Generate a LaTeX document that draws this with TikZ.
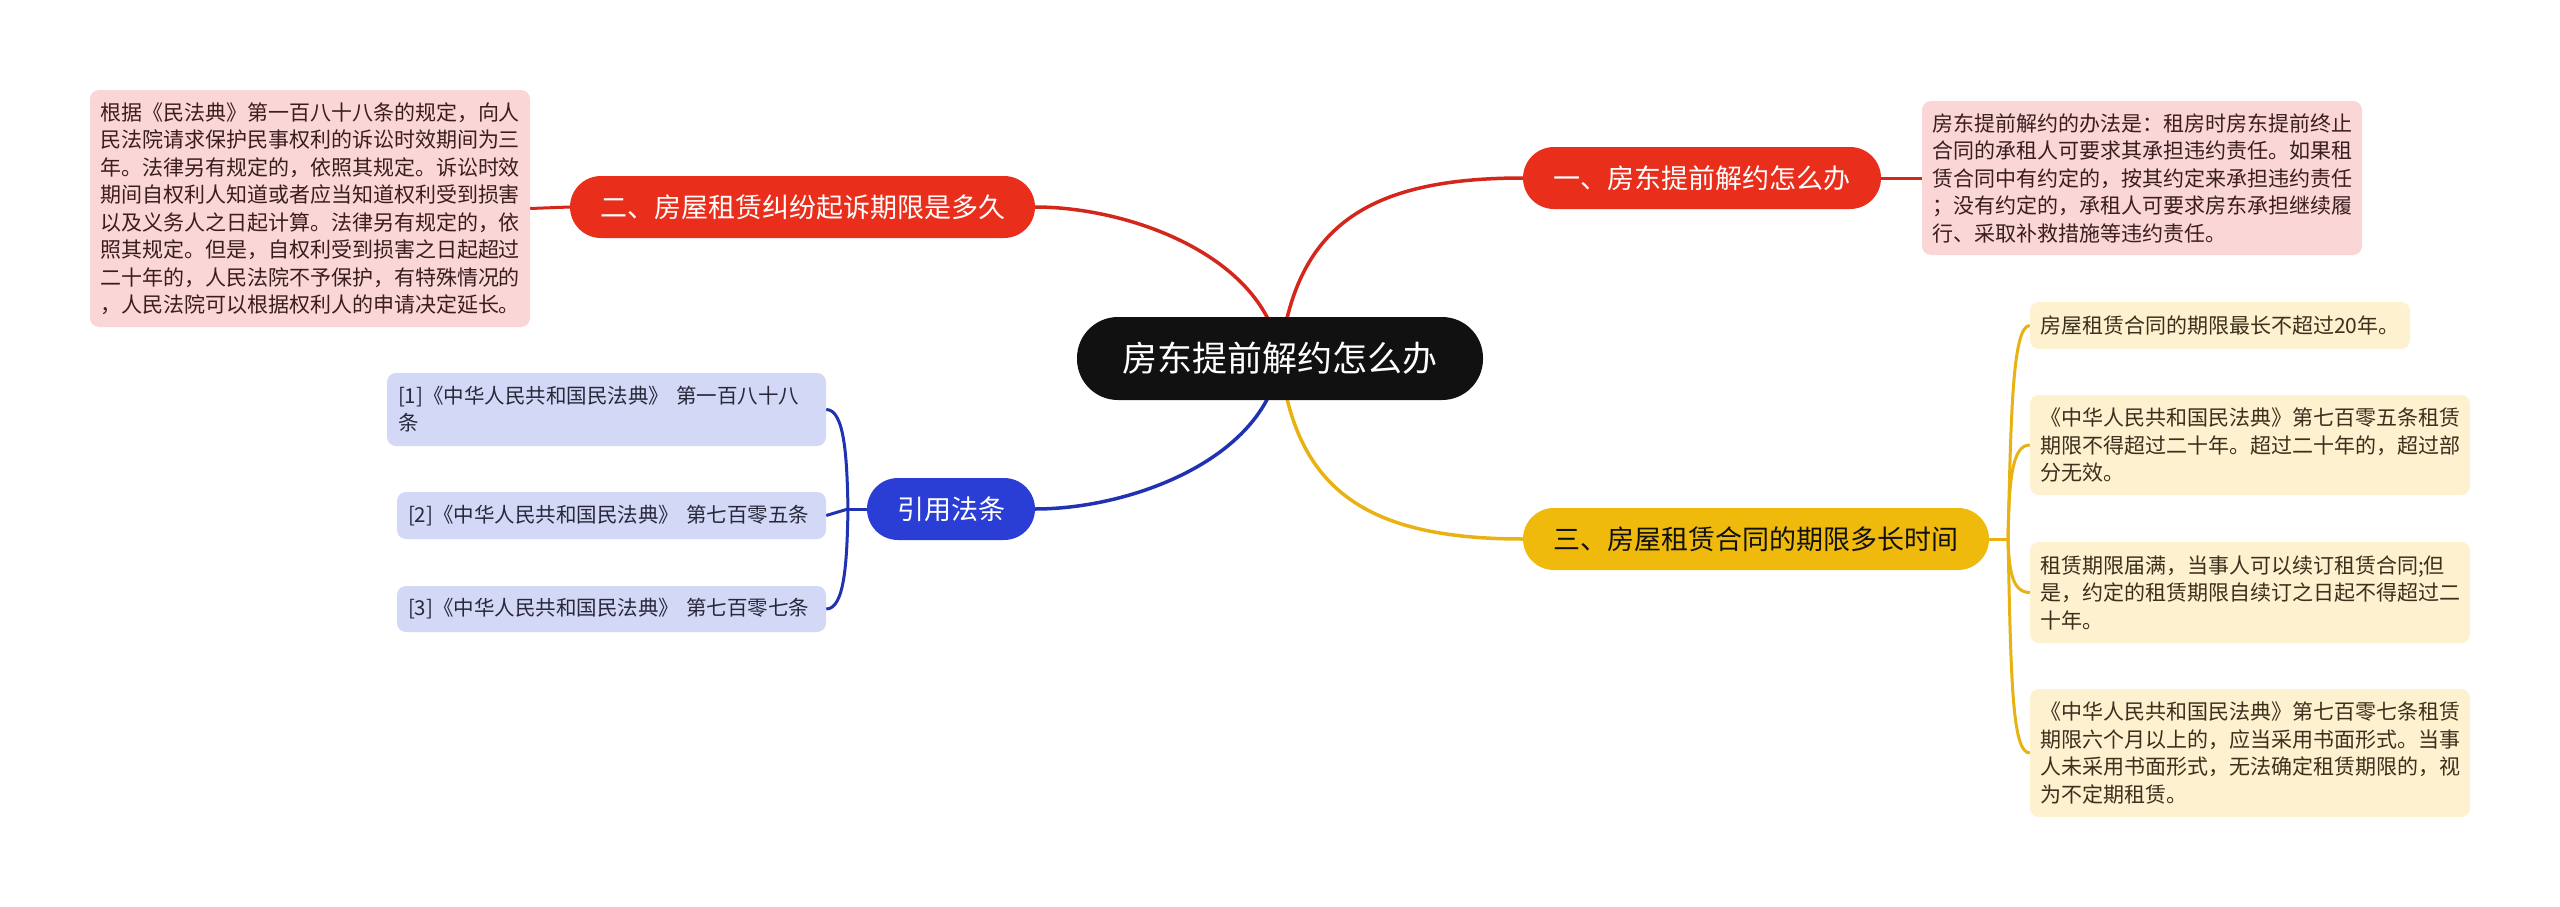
\documentclass[tikz,border=0pt]{standalone}
\usepackage{fontspec}
\setmainfont{Noto Sans CJK SC}
\usetikzlibrary{backgrounds}
\definecolor{rootfill}{RGB}{17,17,17}
\definecolor{redfill}{RGB}{233,46,28}
\definecolor{redline}{RGB}{212,38,26}
\definecolor{pinkfill}{RGB}{251,214,214}
\definecolor{pinktext}{RGB}{58,30,30}
\definecolor{yelfill}{RGB}{240,186,12}
\definecolor{yelline}{RGB}{232,178,18}
\definecolor{creamfill}{RGB}{253,241,208}
\definecolor{creamtext}{RGB}{58,48,28}
\definecolor{bluefill}{RGB}{42,62,214}
\definecolor{blueline}{RGB}{32,50,178}
\definecolor{citefill}{RGB}{211,216,246}
\definecolor{citetext}{RGB}{40,40,58}
\begin{document}
\begin{tikzpicture}[x=1pt,y=-1pt,
  rootnode/.style={rounded corners=41pt, fill=rootfill, text=white, inner sep=0pt,
    minimum width=406pt, minimum height=83pt, font=\fontsize{35}{42}\selectfont},
  branchnode/.style={rounded corners=31pt, inner sep=0pt, minimum height=62pt,
    font=\fontsize{27}{32}\selectfont},
  infobox/.style={rounded corners=9pt, inner xsep=10pt, inner ysep=0pt, align=left,
    font=\fontsize{21}{27.5}\selectfont},
  pinkbox/.style={infobox, fill=pinkfill, text=pinktext},
  creambox/.style={infobox, fill=creamfill, text=creamtext},
  citebox/.style={infobox, inner xsep=11pt, fill=citefill, text=citetext,
    font=\fontsize{20.5}{27}\selectfont},
  mainlink/.style={line width=3.5pt},
  sublink/.style={line width=3pt}
]
\useasboundingbox (0,0) rectangle (2560,907);

% root
\node[rootnode] (root) at (1280,358.5) {房东提前解约怎么办};

% branches
\node[branchnode, fill=redfill, text=white, minimum width=358pt] (b1) at (1702,178) {一、房东提前解约怎么办};
\node[branchnode, fill=redfill, text=white, minimum width=465pt] (b2) at (802.5,207) {二、房屋租赁纠纷起诉期限是多久};
\node[branchnode, fill=yelfill, text=rootfill, minimum width=466pt] (b3) at (1756,539) {三、房屋租赁合同的期限多长时间};
\node[branchnode, fill=bluefill, text=white, minimum width=168pt] (b4) at (951,509) {引用法条};

% junction points of the brackets
\coordinate (jy) at (2008,539);
\coordinate (jb) at (848,509);

% text boxes
\node[pinkbox, text width=420pt, minimum height=154pt] (p1) at (2142,178) {房东提前解约的办法是：租房时房东提前终止\\合同的承租人可要求其承担违约责任。如果租\\赁合同中有约定的，按其约定来承担违约责任\\；没有约定的，承租人可要求房东承担继续履\\行、采取补救措施等违约责任。};

\node[pinkbox, text width=420pt, minimum height=237pt] (p2) at (310,208.5) {根据《民法典》第一百八十八条的规定，向人\\民法院请求保护民事权利的诉讼时效期间为三\\年。法律另有规定的，依照其规定。诉讼时效\\期间自权利人知道或者应当知道权利受到损害\\以及义务人之日起计算。法律另有规定的，依\\照其规定。但是，自权利受到损害之日起超过\\二十年的，人民法院不予保护，有特殊情况的\\，人民法院可以根据权利人的申请决定延长。};

\node[citebox, text width=417pt, minimum height=73pt] (c1) at (606.5,409.5) {[1]《中华人民共和国民法典》~第一百八十八\\条};
\node[citebox, text width=407pt, minimum height=47pt] (c2) at (611.5,515.5) {[2]《中华人民共和国民法典》~第七百零五条};
\node[citebox, text width=407pt, minimum height=46pt] (c3) at (611.5,609) {[3]《中华人民共和国民法典》~第七百零七条};

\node[creambox, text width=360pt, minimum height=47pt] (y1) at (2220,325.5) {房屋租赁合同的期限最长不超过20年。};
\node[creambox, text width=420pt, minimum height=100pt] (y2) at (2250,445) {《中华人民共和国民法典》第七百零五条租赁\\期限不得超过二十年。超过二十年的，超过部\\分无效。};
\node[creambox, text width=420pt, minimum height=101pt] (y3) at (2250,592.5) {租赁期限届满，当事人可以续订租赁合同;但\\是，约定的租赁期限自续订之日起不得超过二\\十年。};
\node[creambox, text width=420pt, minimum height=128pt] (y4) at (2250,753) {《中华人民共和国民法典》第七百零七条租赁\\期限六个月以上的，应当采用书面形式。当事\\人未采用书面形式，无法确定租赁期限的，视\\为不定期租赁。};

\begin{scope}[on background layer]
  \fill[white] (0,0) rectangle (2560,907);
  % root to branches
  \draw[mainlink, redline] (root.center) .. controls (1295,228) and (1365,178) .. (b1.west);
  \draw[mainlink, redline] (root.center) .. controls (1268,258) and (1132,207) .. (b2.east);
  \draw[mainlink, yelline] (root.center) .. controls (1295,489) and (1365,539) .. (b3.west);
  \draw[mainlink, blueline] (root.center) .. controls (1268,458) and (1132,509) .. (b4.east);
  % branch to boxes
  \draw[sublink, redline] (b1.east) -- (p1.west);
  \draw[sublink, redline] (b2.west) -- (p2.east);
  \draw[sublink, yelline] (b3.east) -- (jy);
  \draw[sublink, yelline] (jy) .. controls (2011,420) and (2012,325.5) .. (y1.west);
  \draw[sublink, yelline] (jy) .. controls (2009,480) and (2012,445) .. (y2.west);
  \draw[sublink, yelline] (jy) .. controls (2009,570) and (2012,592.5) .. (y3.west);
  \draw[sublink, yelline] (jy) .. controls (2011,680) and (2012,753) .. (y4.west);
  \draw[sublink, blueline] (b4.west) -- (jb);
  \draw[sublink, blueline] (jb) .. controls (847,460) and (845,409.5) .. (c1.east);
  \draw[sublink, blueline] (jb) -- (c2.east);
  \draw[sublink, blueline] (jb) .. controls (847,560) and (845,609) .. (c3.east);
\end{scope}
\end{tikzpicture}
\end{document}
